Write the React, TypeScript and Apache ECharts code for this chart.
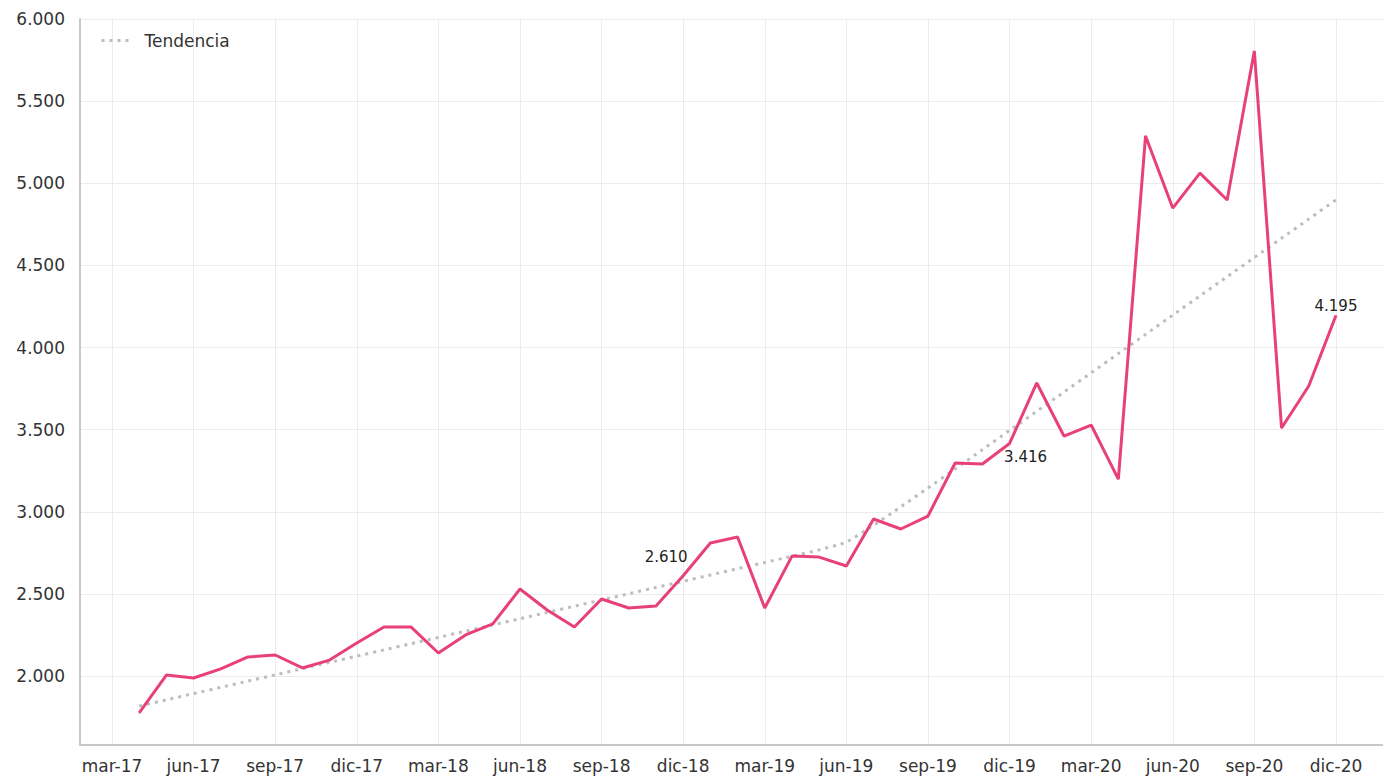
import React, { useEffect, useRef } from "react";
import * as echarts from "echarts";

// Tick labels every 3 months, starting at mar-17 (month index 0)
const tickLabels = [
  "mar-17", "jun-17", "sep-17", "dic-17",
  "mar-18", "jun-18", "sep-18", "dic-18",
  "mar-19", "jun-19", "sep-19", "dic-19",
  "mar-20", "jun-20", "sep-20", "dic-20",
];

const yTicks = [2000, 2500, 3000, 3500, 4000, 4500, 5000, 5500, 6000];

// Monthly values, apr-17 .. dic-20 (month index 1 .. 45)
const values = [
  1775, 2006, 1988, 2043, 2116, 2128, 2049, 2097, 2201,
  2298, 2298, 2140, 2250, 2317, 2530, 2402, 2298, 2469, 2414, 2426, 2610,
  2810, 2846, 2414, 2730, 2724, 2670, 2956, 2895, 2974, 3297, 3291, 3416,
  3784, 3461, 3528, 3199, 5288, 4849, 5062, 4898, 5805, 3510, 3766, 4195,
];

const trend = [
  1817, 1855, 1893, 1931, 1969, 2007, 2045, 2083, 2121,
  2159, 2197, 2235, 2273, 2311, 2349, 2387, 2425, 2463, 2501, 2539, 2577,
  2615, 2653, 2691, 2729, 2768, 2816, 2918, 3030, 3145, 3260, 3378, 3495,
  3612, 3729, 3846, 3963, 4080, 4197, 4314, 4431, 4548, 4665, 4782, 4899,
];

// Labelled points (month index) and their label placement
const labelled: Record<number, { position: string; offset: number[] }> = {
  21: { position: "top", offset: [-17, -6] },
  33: { position: "bottom", offset: [16, 1] },
  45: { position: "top", offset: [0, 4] },
};

const fmt = (v: number) =>
  String(Math.round(v)).replace(/\B(?=(\d{3})+(?!\d))/g, ".");

export default function App() {
  const ref = useRef<HTMLDivElement>(null);
  useEffect(() => {
    document.body.style.margin = "0";
    if (!ref.current) return;
    const chart = echarts.init(ref.current, null, { renderer: "svg" });
    const font = "DejaVu Sans";
    const tickValues = tickLabels.map((_, i) => i * 3);
    const mainData = values.map((v, i) => {
      const m = i + 1;
      const l = labelled[m];
      if (l) {
        return {
          value: [m, v],
          label: {
            show: true,
            position: l.position,
            offset: l.offset,
            formatter: () => fmt(v),
            fontSize: 15,
            color: "#222",
            fontFamily: font,
          },
        };
      }
      return { value: [m, v] };
    });
    const trendData = trend.map((v, i) => [i + 1, v]);

    chart.setOption({
      animation: false,
      textStyle: { fontFamily: font },
      grid: { left: 80, right: 0, top: 19, bottom: 33, containLabel: false },
      legend: {
        data: ["Tendencia"],
        left: 95,
        top: 27,
        itemWidth: 30,
        itemHeight: 14,
        itemStyle: { opacity: 0 },
        lineStyle: { color: "#bdbdbd", width: 3, type: [3, 5] },
        textStyle: { fontSize: 17, color: "#333", fontFamily: font, padding: [0, 0, 0, 8] },
      },
      xAxis: {
        type: "value",
        min: -1.176,
        max: 46.73,
        axisLine: { show: true, onZero: false, lineStyle: { color: "#c8c8c8", width: 2 } },
        axisTick: { show: false, customValues: tickValues },
        axisLabel: {
          customValues: tickValues,
          formatter: (v: number) => tickLabels[Math.round(v / 3)] ?? "",
          fontSize: 17,
          color: "#333",
          margin: 12,
          fontFamily: font,
        },
        splitLine: { show: true, lineStyle: { color: "#ececec", width: 1 } },
      },
      yAxis: {
        type: "value",
        min: 1580,
        max: 6000,
        axisLine: { show: true, onZero: false, lineStyle: { color: "#c8c8c8", width: 2 } },
        axisTick: { show: false, customValues: yTicks },
        axisLabel: {
          customValues: yTicks,
          formatter: (v: number) => fmt(v),
          fontSize: 17,
          color: "#333",
          margin: 15,
          fontFamily: font,
        },
        splitLine: { show: true, lineStyle: { color: "#ececec", width: 1 } },
      },
      series: [
        {
          name: "Tendencia",
          type: "line",
          data: trendData,
          showSymbol: false,
          symbol: "none",
          smooth: 0.2,
          lineStyle: { color: "#bdbdbd", width: 3, type: [3, 5] },
          itemStyle: { color: "#bdbdbd" },
          z: 1,
        },
        {
          name: "Valor",
          type: "line",
          data: mainData,
          showSymbol: true,
          symbol: "circle",
          symbolSize: 1,
          lineStyle: { color: "#e8417a", width: 3 },
          itemStyle: { color: "#e8417a" },
          z: 2,
        },
      ],
    });
    return () => chart.dispose();
  }, []);
  return <div ref={ref} style={{ width: 1383, height: 778 }} />;
}
